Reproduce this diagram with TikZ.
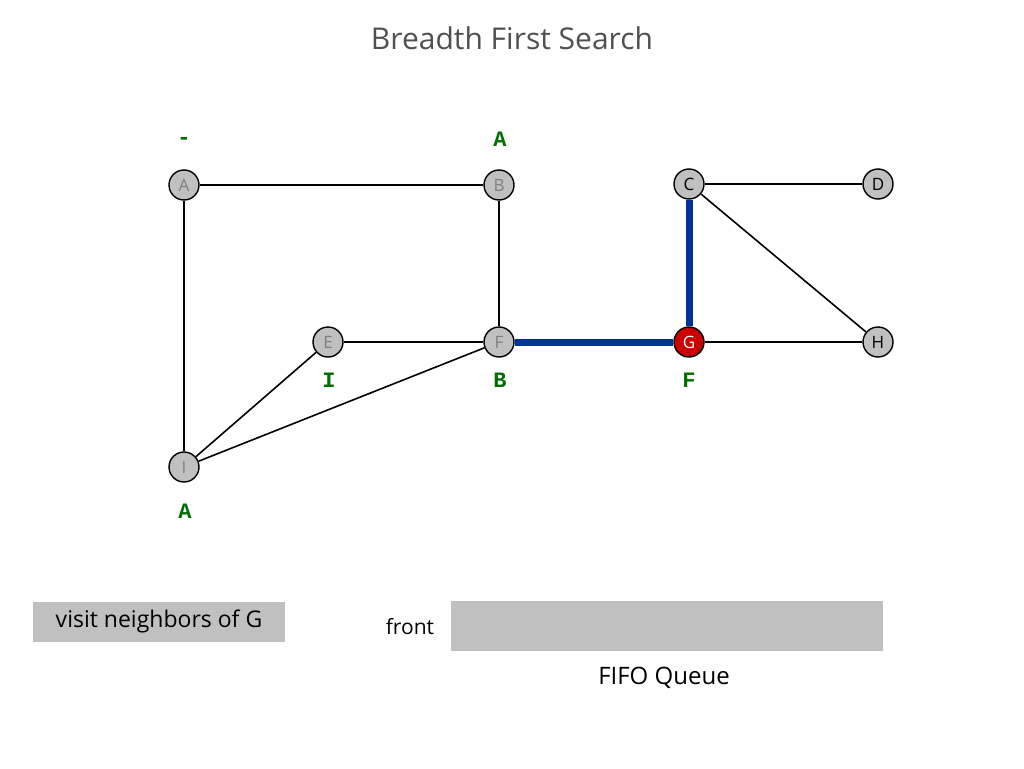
\documentclass[tikz,border=0pt]{standalone}
\usepackage{fontspec}
\setmainfont{Open Sans}
\newfontfamily\labelfont{Liberation Mono}
\definecolor{vgray}{RGB}{192,192,192}
\definecolor{vred}{RGB}{204,0,0}
\definecolor{vblue}{RGB}{0,51,153}
\definecolor{vgreen}{RGB}{0,110,0}
\definecolor{titlegray}{RGB}{80,80,80}
\tikzset{
  vertex/.style={circle, draw=black, line width=1.4pt, fill=vgray, minimum size=30pt, inner sep=0pt, font=\fontsize{17}{17}\selectfont},
  seen/.style={vertex, text=gray},
  fresh/.style={vertex, text=black},
  current/.style={vertex, fill=vred, text=white},
  tag/.style={text=vgreen, font=\labelfont\bfseries\fontsize{22}{22}\selectfont},
  tree/.style={line width=7pt, vblue},
  bar/.style={fill=vgray, draw=none}
}
\begin{document}
\begin{tikzpicture}[x=1pt, y=-1pt]
      \useasboundingbox (0,0) rectangle (1024,768);
      \node[text=titlegray, font=\fontsize{30}{30}\selectfont] (title) at (512,38) {Breadth First Search};
      \draw
        (184,185) node[seen] (A){A}
        (499,185) node[seen] (B){B}
        (689,184) node[fresh] (C){C}
        (878,184) node[fresh] (D){D}
        (328,342) node[seen] (E){E}
        (499,342) node[seen] (F){F}
        (689,342) node[current] (G){G}
        (878,342) node[fresh] (H){H}
        (184,467) node[seen] (I){I};
      \begin{scope}[-, line width=1.6pt]
        \draw (A) to (B);
        \draw (A) to (I);
        \draw (B) to (F);
        \draw (E) to (F);
        \draw (I) to (E);
        \draw (I) to (F);
        \draw (C) to (D);
        \draw (C) to (H);
        \draw (G) to (H);
      \end{scope}
      \begin{scope}[tree]
        \draw (F) to (G);
        \draw (G) to (C);
      \end{scope}
      % predecessor labels
      \node[tag] (tA) at (184,141) {-};
      \node[tag] (tB) at (500,139) {A};
      \node[tag] (tE) at (329,380) {I};
      \node[tag] (tF) at (500,380) {B};
      \node[tag] (tG) at (689,380) {F};
      \node[tag] (tI) at (185,511) {A};
      % status and queue
      \fill[bar] (33,602) rectangle (285,642);
      \node[font=\fontsize{23}{23}\selectfont] (status) at (159,621) {visit neighbors of G};
      \node[font=\fontsize{21}{21}\selectfont] (front) at (410,627) {front};
      \fill[bar] (451,601) rectangle (883,651);
      \node[font=\fontsize{24}{24}\selectfont] (queue) at (664,678) {FIFO Queue};
    \end{tikzpicture}
\end{document}
